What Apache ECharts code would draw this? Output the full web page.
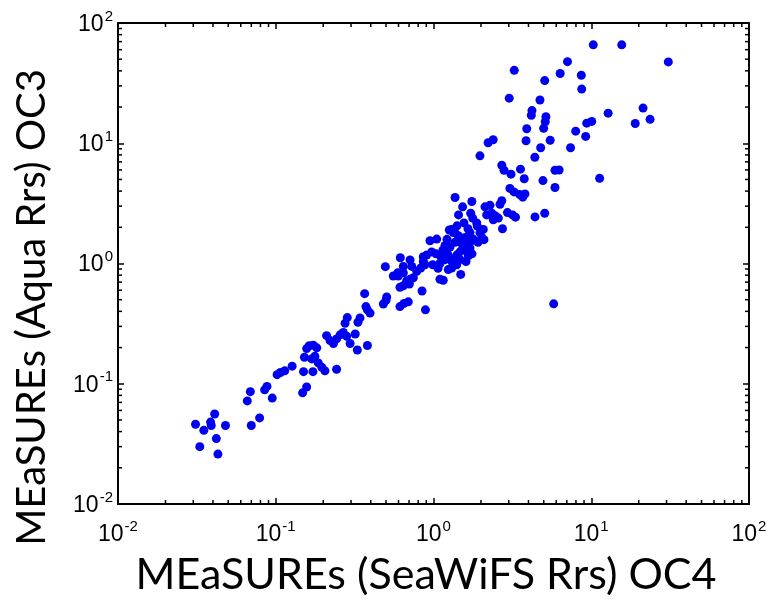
<!DOCTYPE html>
<html><head><meta charset="utf-8">
<script src="https://cdn.jsdelivr.net/npm/echarts@6/dist/echarts.min.js"></script>
<style>html,body{margin:0;padding:0;background:#fff}#c{width:773px;height:602px}</style>
</head><body><div id="c"></div>
<script>
// x: MEaSUREs (SeaWiFS Rrs) OC4, y: MEaSUREs (Aqua Rrs) OC3
const oc4 = [0.031,0.035,0.0386,0.039,0.041,0.048,0.042,0.033,0.043,0.066,0.069,0.070,0.079,0.085,0.088,0.095,0.102,0.107,0.114,0.127,0.150,0.172,0.148,0.157,0.152,0.157,0.163,0.173,0.182,0.169,0.177,0.186,0.196,0.205,0.243,0.210,0.221,0.232,0.243,0.256,0.268,0.282,0.296,0.329,0.381,0.275,0.284,0.319,0.332,0.342,0.366,0.373,0.381,0.396,0.495,0.481,0.505,0.613,0.650,0.692,0.889,0.556,0.593,0.616,0.644,0.710,0.728,0.598,0.644,0.676,0.710,0.745,0.783,0.830,0.883,0.613,0.644,0.703,0.846,1.099,1.153,1.488,1.662,0.862,0.905,0.974,0.989,0.950,1.048,1.183,1.212,1.272,1.304,1.403,1.472,1.545,1.624,1.703,1.787,0.862,1.241,1.304,1.368,1.436,1.472,1.879,1.895,1.971,2.020,2.089,2.069,2.737,2.944,3.170,3.310,2.173,2.339,2.455,2.576,2.393,1.772,1.721,1.441,1.259,1.335,1.148,1.236,1.309,1.472,1.183,1.099,1.037,1.068,1.272,1.368,1.218,1.584,1.516,1.703,1.607,1.754,1.914,1.703,1.409,1.560,1.654,1.116,1.409,10.3,15.6,30.8,7.07,3.25,6.35,8.65,5.07,8.70,3.02,4.73,12.8,21.3,23.6,19.0,4.21,4.17,5.16,5.11,4.99,3.90,3.86,5.49,4.78,4.39,2.22,2.39,1.97,2.71,2.80,3.10,3.56,3.76,4.94,5.89,6.26,5.89,9.36,10.07,7.97,9.22,7.39,11.3,3.05,3.24,3.52,3.68,3.80,1.37,1.75,1.53,2.12,2.28,2.71,2.64,4.40,5.07,5.78,0.50];
const oc3 = [0.046,0.041,0.048,0.045,0.056,0.045,0.035,0.030,0.026,0.072,0.086,0.045,0.052,0.089,0.095,0.076,0.119,0.124,0.128,0.140,0.126,0.126,0.084,0.094,0.166,0.196,0.207,0.209,0.199,0.161,0.169,0.149,0.137,0.128,0.132,0.251,0.229,0.216,0.236,0.255,0.267,0.248,0.216,0.191,0.208,0.318,0.355,0.259,0.325,0.353,0.561,0.438,0.412,0.387,0.941,0.460,0.526,0.438,0.466,0.480,0.412,0.787,0.836,1.117,0.946,1.071,0.946,0.787,0.836,0.717,0.740,0.762,0.863,0.917,0.976,0.634,0.653,0.675,0.590,0.740,0.726,0.811,1.159,1.038,1.175,1.248,0.976,1.545,1.596,1.413,1.248,1.104,0.917,0.976,1.248,1.413,1.288,1.503,1.596,1.138,0.890,1.921,1.807,1.700,1.503,2.175,2.046,1.807,1.648,1.579,1.921,1.945,2.650,2.535,2.430,2.535,2.618,2.500,2.385,2.310,2.385,2.618,2.535,1.900,1.807,1.296,1.181,1.038,1.077,1.077,1.000,1.203,0.912,1.369,1.503,1.588,1.648,1.296,1.344,1.038,1.203,1.503,1.807,2.056,2.175,1.945,1.138,1.181,65.8,65.8,47.5,47.7,40.4,38.0,36.8,33.2,28.2,23.7,22.9,17.8,19.6,15.8,14.6,18.7,17.1,16.6,15.1,13.3,13.2,10.5,10.6,9.17,7.65,10.1,10.7,7.86,6.56,5.96,5.53,6.09,5.07,4.89,5.96,5.99,4.29,14.7,15.2,12.6,11.4,9.17,5.11,4.21,3.94,3.75,3.56,3.79,3.54,3.28,2.96,2.96,3.05,3.33,3.11,2.44,2.618,0.462,0.495];
const decadeTicks = [0.01, 0.1, 1, 10, 100];
const minorTicks = [0.02,0.03,0.04,0.05,0.06,0.07,0.08,0.09,0.2,0.3,0.4,0.5,0.6,0.7,0.8,0.9,2,3,4,5,6,7,8,9,20,30,40,50,60,70,80,90];
const xTitle = 'MEaSUREs (SeaWiFS Rrs) OC4';
const yTitle = 'MEaSUREs (Aqua Rrs) OC3';

const points = oc4.map((x, i) => [x, oc3[i]]);
const AX_MIN = decadeTicks[0], AX_MAX = decadeTicks[decadeTicks.length - 1];

function expLabel(v) {
  const e = Math.round(Math.log10(v));
  return '{b|10}{s|' + e + '}';
}
const rich = {
  b: { fontFamily: 'Liberation Sans', fontSize: 23, color: '#000', verticalAlign: 'bottom', lineHeight: 26 },
  s: { fontFamily: 'Liberation Sans', fontSize: 15, color: '#000', verticalAlign: 'bottom', lineHeight: 26, padding: [0, 0, 12, 1] }
};
const lineStyle = { color: '#000', width: 2 };
function baseAxis(pos, showLabel) {
  return {
    type: 'log', logBase: 10, min: AX_MIN, max: AX_MAX, position: pos,
    axisLine: { show: true, onZero: false, lineStyle: lineStyle },
    axisTick: { show: true, inside: true, length: 6, lineStyle: { color: '#000', width: 1.5 } },
    splitLine: { show: false },
    axisLabel: { show: showLabel, formatter: expLabel, rich: rich }
  };
}
const xMain = Object.assign(baseAxis('bottom', true), {
  name: xTitle, nameLocation: 'middle', nameGap: 50,
  nameTextStyle: { fontFamily: 'Lato', fontSize: 43, color: '#000', padding: [0, 15, 0, 0] }
});
xMain.axisLabel.margin = 16;
const yMain = Object.assign(baseAxis('left', true), {
  name: yTitle, nameLocation: 'middle', nameGap: 66,
  nameTextStyle: { fontFamily: 'Lato', fontSize: 40, color: '#000', padding: [0, 88, 0, 0] }
});
yMain.axisLabel.margin = 5;

function minorRender(isX) {
  return function (params, api) {
    const v = api.value(isX ? 0 : 1);
    const L = 4;
    if (isX) {
      const a = api.coord([v, AX_MIN]), b = api.coord([v, AX_MAX]);
      return { type: 'group', children: [
        { type: 'line', shape: { x1: a[0], y1: a[1], x2: a[0], y2: a[1] - L }, style: { stroke: '#000', lineWidth: 1.5 } },
        { type: 'line', shape: { x1: b[0], y1: b[1], x2: b[0], y2: b[1] + L }, style: { stroke: '#000', lineWidth: 1.5 } }
      ]};
    } else {
      const a = api.coord([AX_MIN, v]), b = api.coord([AX_MAX, v]);
      return { type: 'group', children: [
        { type: 'line', shape: { x1: a[0], y1: a[1], x2: a[0] + L, y2: a[1] }, style: { stroke: '#000', lineWidth: 1.5 } },
        { type: 'line', shape: { x1: b[0], y1: b[1], x2: b[0] - L, y2: b[1] }, style: { stroke: '#000', lineWidth: 1.5 } }
      ]};
    }
  };
}

const chart = echarts.init(document.getElementById('c'), null, { renderer: 'canvas' });
chart.setOption({
  animation: false,
  backgroundColor: '#fff',
  grid: { left: 118, top: 23, width: 631, height: 498, containLabel: false },
  xAxis: [xMain, baseAxis('top', false)],
  yAxis: [yMain, baseAxis('right', false)],
  series: [
    { type: 'scatter', data: points, symbol: 'circle', symbolSize: 9,
      itemStyle: { color: '#0000f0', opacity: 1 }, xAxisIndex: 0, yAxisIndex: 0, z: 3 },
    { type: 'custom', coordinateSystem: 'cartesian2d', xAxisIndex: 0, yAxisIndex: 0,
      data: minorTicks.map(v => [v, AX_MIN]), renderItem: minorRender(true), silent: true, clip: false, z: 5 },
    { type: 'custom', coordinateSystem: 'cartesian2d', xAxisIndex: 0, yAxisIndex: 0,
      data: minorTicks.map(v => [AX_MIN, v]), renderItem: minorRender(false), silent: true, clip: false, z: 5 }
  ]
});
</script></body></html>
